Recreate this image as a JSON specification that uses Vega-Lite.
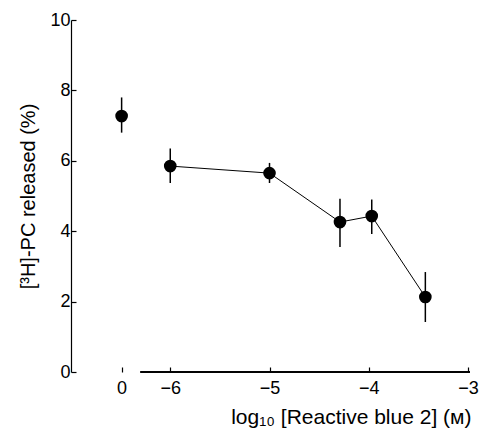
{
  "$schema": "https://vega.github.io/schema/vega-lite/v6.json",
  "width": 400,
  "height": 352,
  "autosize": "none",
  "padding": {"left": 71, "top": 20, "right": 14, "bottom": 57},
  "background": "white",
  "config": {"view": {"stroke": null}, "font": "Liberation Sans"},
  "data": {"values": [
    {"group": "control", "x": -6.49, "y": 7.27, "lo": 6.8, "hi": 7.8},
    {"group": "drug", "x": -6, "y": 5.85, "lo": 5.37, "hi": 6.35},
    {"group": "drug", "x": -5, "y": 5.65, "lo": 5.37, "hi": 5.94},
    {"group": "drug", "x": -4.29, "y": 4.26, "lo": 3.55, "hi": 4.92},
    {"group": "drug", "x": -3.97, "y": 4.43, "lo": 3.92, "hi": 4.9},
    {"group": "drug", "x": -3.43, "y": 2.13, "lo": 1.42, "hi": 2.84}
  ]},
  "encoding": {
    "x": {"field": "x", "type": "quantitative", "scale": {"domain": [-7, -2.97], "nice": false, "zero": false}},
    "y": {"field": "y", "type": "quantitative", "scale": {"domain": [0, 10], "nice": false}}
  },
  "layer": [
    {
      "mark": {"type": "rule", "color": "black", "strokeWidth": 1.2},
      "encoding": {
        "x": {"datum": -6.3, "type": "quantitative"},
        "x2": {"datum": -2.98},
        "y": {"datum": 0, "type": "quantitative"}
      }
    },
    {
      "mark": {"type": "rule", "color": "black", "strokeWidth": 1.5},
      "encoding": {
        "y": {"field": "lo", "type": "quantitative"},
        "y2": {"field": "hi"}
      }
    },
    {
      "transform": [{"filter": "datum.group === 'drug'"}],
      "mark": {"type": "line", "color": "black", "strokeWidth": 1},
      "encoding": {
        "x": {
          "field": "x", "type": "quantitative",
          "axis": {
            "values": [-6.49, -6, -5, -4, -3],
            "labelExpr": "datum.value < -6.2 ? '0' : '\u2212' + abs(datum.value)",
            "domain": false, "grid": false,
            "tickSize": -5, "tickColor": "black", "tickWidth": 1.2,
            "labelFontSize": 18, "labelColor": "black", "labelPadding": 12,
            "labelFont": "Liberation Sans",
            "title": "log\u2081\u2080 [Reactive blue 2] (\u1d0d)",
            "titleAnchor": "end",
            "titleFontSize": 21, "titleFontWeight": "normal", "titleColor": "black",
            "titlePadding": 9, "titleFont": "Liberation Sans"
          }
        },
        "y": {
          "field": "y", "type": "quantitative",
          "axis": {
            "values": [0, 2, 4, 6, 8, 10],
            "domain": true, "domainColor": "black", "domainWidth": 1.2,
            "grid": false,
            "tickSize": -5, "tickColor": "black", "tickWidth": 1.2,
            "labelFontSize": 18, "labelColor": "black", "labelPadding": 6,
            "labelFont": "Liberation Sans",
            "title": "[\u00b3H]-PC released (%)",
            "titleFontSize": 20, "titleFontWeight": "normal", "titleColor": "black",
            "titlePadding": 11, "titleFont": "Liberation Sans"
          }
        }
      }
    },
    {
      "mark": {"type": "circle", "color": "black", "opacity": 1, "size": 160}
    }
  ]
}
